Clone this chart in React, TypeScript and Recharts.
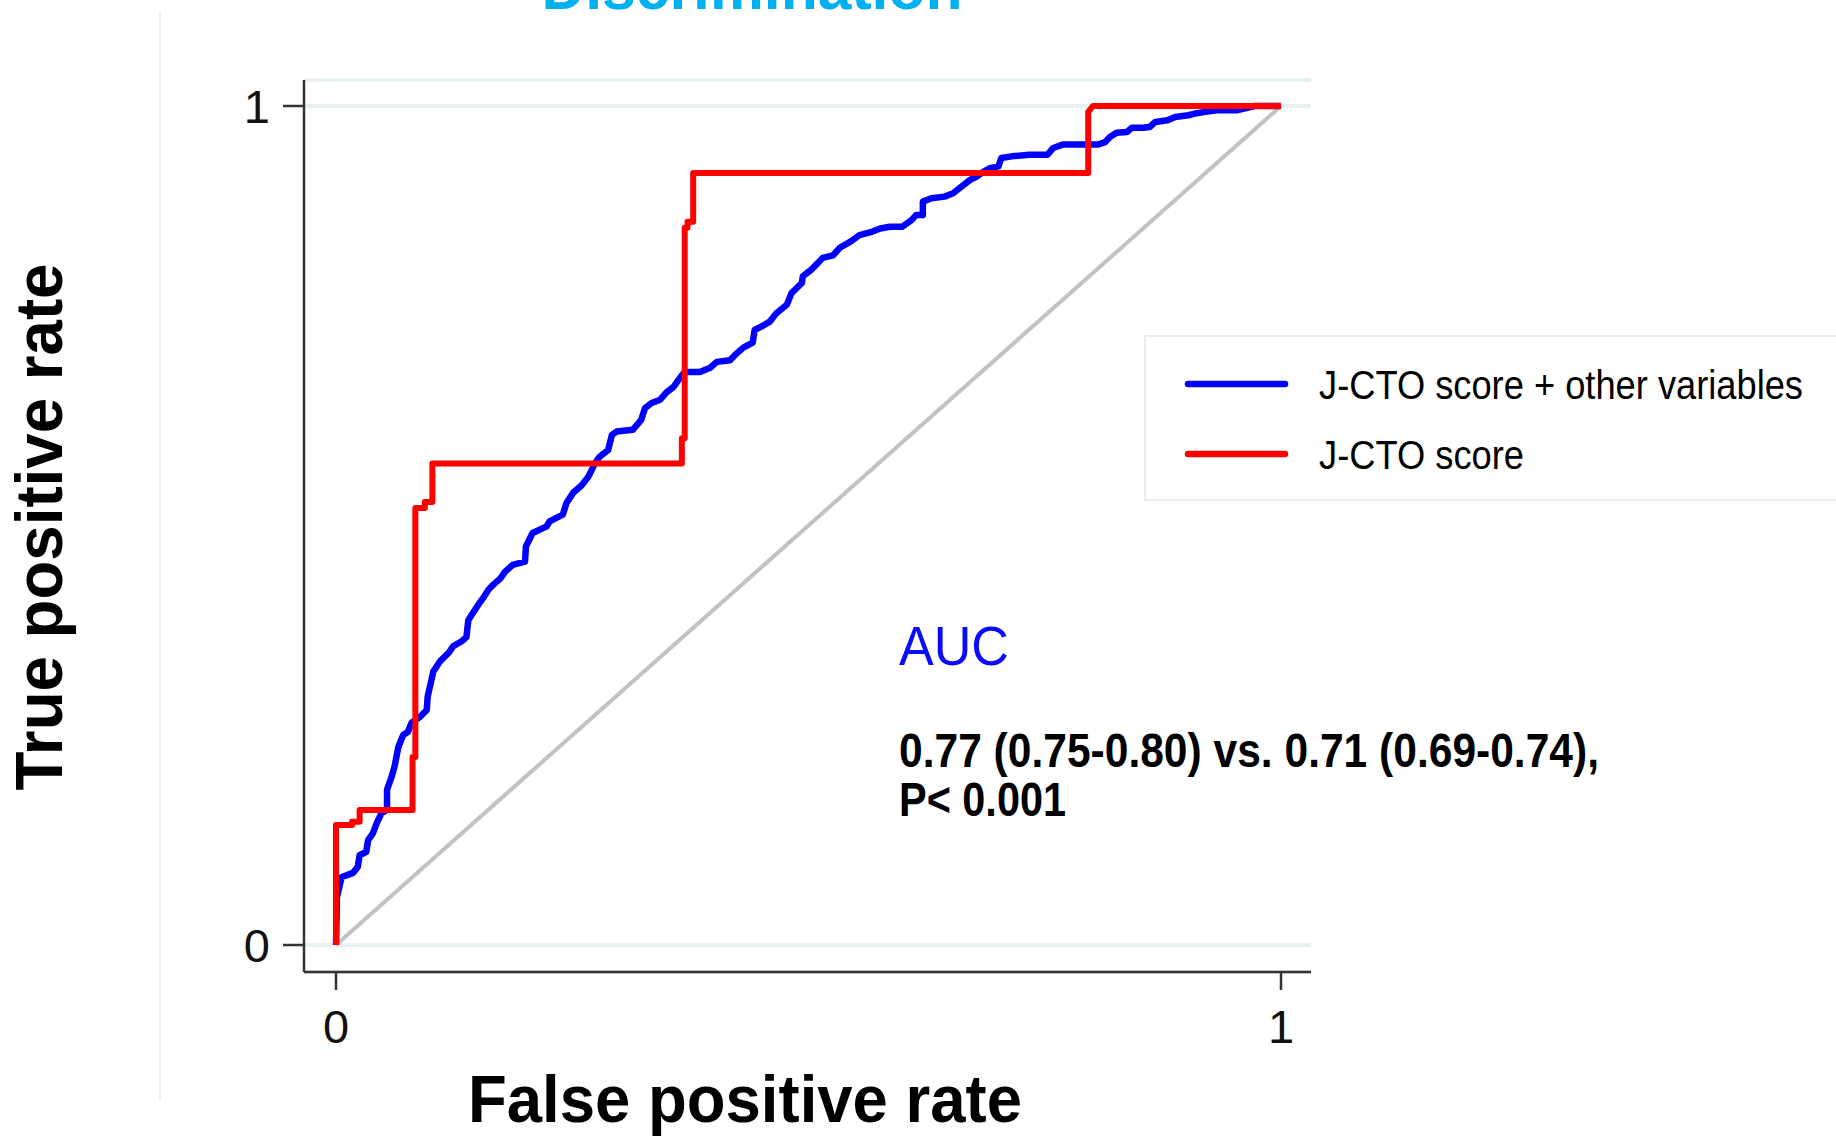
import React from 'react';
import { LineChart, Line, XAxis, YAxis, CartesianGrid, Legend, Customized } from 'recharts';

const FONT = '"Liberation Sans", Arial, Helvetica, sans-serif';

// Axis ticks
const xTicks = [0, 1];
const yTicks = [0, 1];

// Series names and colours
const seriesNames = ['J-CTO score + other variables', 'J-CTO score'];
const seriesColors = ['#0000ff', '#ff0000'];

// Reference (chance) line
const chanceFpr = [0, 1];
const chanceTpr = [0, 1];

// J-CTO score + other variables (blue)
const blueFpr = [
  0, 0.001, 0.006, 0.011, 0.018, 0.023, 0.025, 0.032, 0.034, 0.039, 0.043, 0.048, 0.054, 0.054,
  0.059, 0.062, 0.066, 0.071, 0.076, 0.080, 0.089, 0.096, 0.097, 0.101, 0.103, 0.110, 0.119,
  0.124, 0.133, 0.138, 0.140, 0.145, 0.152, 0.156, 0.161, 0.166, 0.174, 0.179, 0.187, 0.200,
  0.201, 0.208, 0.223, 0.226, 0.240, 0.244, 0.251, 0.260, 0.267, 0.274, 0.279, 0.288, 0.292,
  0.297, 0.314, 0.323, 0.327, 0.334, 0.343, 0.350, 0.357, 0.364, 0.369, 0.385, 0.396, 0.403,
  0.417, 0.422, 0.431, 0.441, 0.443, 0.450, 0.459, 0.466, 0.477, 0.482, 0.493, 0.494, 0.503,
  0.510, 0.515, 0.526, 0.533, 0.544, 0.554, 0.567, 0.576, 0.586, 0.599, 0.609, 0.614, 0.621,
  0.621, 0.630, 0.644, 0.653, 0.662, 0.671, 0.678, 0.683, 0.692, 0.701, 0.704, 0.715, 0.734,
  0.753, 0.759, 0.769, 0.806, 0.814, 0.819, 0.826, 0.837, 0.842, 0.854, 0.861, 0.867, 0.880,
  0.888, 0.902, 0.909, 0.920, 0.932, 0.954, 0.972, 1.0,
];
const blueTpr = [
  0, 0.057, 0.081, 0.083, 0.086, 0.093, 0.107, 0.111, 0.125, 0.133, 0.145, 0.157, 0.161, 0.185,
  0.201, 0.213, 0.236, 0.250, 0.254, 0.265, 0.272, 0.280, 0.296, 0.316, 0.326, 0.338, 0.348,
  0.356, 0.362, 0.367, 0.387, 0.396, 0.408, 0.414, 0.423, 0.429, 0.437, 0.445, 0.453, 0.457,
  0.475, 0.491, 0.499, 0.505, 0.513, 0.527, 0.539, 0.548, 0.558, 0.574, 0.582, 0.590, 0.608,
  0.612, 0.614, 0.626, 0.640, 0.646, 0.650, 0.659, 0.665, 0.676, 0.683, 0.683, 0.688, 0.695,
  0.697, 0.703, 0.712, 0.718, 0.733, 0.737, 0.743, 0.753, 0.763, 0.777, 0.789, 0.797, 0.805,
  0.813, 0.819, 0.822, 0.831, 0.838, 0.846, 0.850, 0.854, 0.856, 0.856, 0.864, 0.870, 0.870,
  0.886, 0.890, 0.892, 0.896, 0.904, 0.912, 0.916, 0.920, 0.926, 0.928, 0.938, 0.940, 0.942,
  0.942, 0.950, 0.954, 0.954, 0.957, 0.963, 0.968, 0.969, 0.974, 0.974, 0.975, 0.981, 0.983,
  0.987, 0.989, 0.991, 0.993, 0.995, 0.995, 1.0, 1.0,
];

// J-CTO score (red)
const redFpr = [
  0, 0, 0.017, 0.017, 0.025, 0.025, 0.081, 0.081, 0.084, 0.084, 0.094, 0.094, 0.102, 0.102,
  0.366, 0.366, 0.369, 0.369, 0.372, 0.372, 0.378, 0.378, 0.796, 0.796, 0.801, 1.0,
];
const redTpr = [
  0, 0.143, 0.143, 0.147, 0.147, 0.161, 0.161, 0.224, 0.224, 0.521, 0.521, 0.528, 0.528, 0.574,
  0.574, 0.604, 0.604, 0.855, 0.855, 0.862, 0.862, 0.920, 0.920, 0.993, 1.0, 1.0,
];

const zip = (xs: number[], ys: number[]) => xs.map((x, i) => ({ fpr: x, tpr: ys[i] }));
const chanceData = zip(chanceFpr, chanceTpr);
const blueData = zip(blueFpr, blueTpr);
const redData = zip(redFpr, redTpr);

const titleText = 'Discrimination';
const aucLabel = 'AUC';
const aucLine1 = '0.77 (0.75-0.80) vs. 0.71 (0.69-0.74),';
const aucLine2 = 'P< 0.001';
const xTitle = 'False positive rate';
const yTitle = 'True positive rate';

function Annotations() {
  return (
    <g fontFamily={FONT}>
      <line x1={160} y1={12} x2={160} y2={1100} stroke="#e8e8e8" strokeWidth={1.5} />
      <text x={752} y={9} textAnchor="middle" fill="#00b0f0" fontWeight="bold" fontSize={62}
        textLength={421} lengthAdjust="spacingAndGlyphs">{titleText}</text>
      <text x={899} y={665} fill="#0a0aff" fontSize={55}
        textLength={110} lengthAdjust="spacingAndGlyphs">{aucLabel}</text>
      <text x={899} y={767} fill="#000" fontWeight="bold" fontSize={49}
        textLength={700} lengthAdjust="spacingAndGlyphs">{aucLine1}</text>
      <text x={899} y={816} fill="#000" fontWeight="bold" fontSize={49}
        textLength={167} lengthAdjust="spacingAndGlyphs">{aucLine2}</text>
      <text x={745} y={1122} textAnchor="middle" fill="#000" fontWeight="bold" fontSize={67}
        textLength={554} lengthAdjust="spacingAndGlyphs">{xTitle}</text>
      <text transform="translate(62,527) rotate(-90)" textAnchor="middle" fill="#000" fontWeight="bold"
        fontSize={66} textLength={527} lengthAdjust="spacingAndGlyphs">{yTitle}</text>
    </g>
  );
}

function LegendBox() {
  const textLens = [484, 205];
  return (
    <div style={{
      width: 692, height: 166, boxSizing: 'border-box',
      border: '2px solid #e6eef0', borderRight: 'none', background: '#fff',
    }}>
      <svg width={690} height={162} style={{ display: 'block' }}>
        {seriesNames.map((name, i) => (
          <g key={name}>
            <line x1={42} x2={139} y1={47 + i * 70} y2={47 + i * 70}
              stroke={seriesColors[i]} strokeWidth={6.5} strokeLinecap="round" />
            <text x={173} y={62 + i * 70} fontFamily={FONT} fontSize={40} fill="#000"
              textLength={textLens[i]} lengthAdjust="spacingAndGlyphs">{name}</text>
          </g>
        ))}
      </svg>
    </div>
  );
}

export default function App() {
  return (
    <div style={{ position: 'absolute', left: 0, top: 0, width: 1836, height: 1138, background: '#fff' }}>
      <LineChart width={1836} height={1138} margin={{ top: 80, right: 525, left: 0, bottom: 0 }}>
        <CartesianGrid vertical={false} stroke="#e8f0f2" strokeWidth={4} />
        <XAxis
          type="number"
          dataKey="fpr"
          domain={[-0.03386, 1.03175]}
          ticks={xTicks}
          height={166}
          tickSize={18}
          tickMargin={20}
          axisLine={{ stroke: '#333', strokeWidth: 2.5 }}
          tickLine={{ stroke: '#333', strokeWidth: 2.5 }}
          tick={{ fontSize: 47, fill: '#111', fontFamily: FONT }}
        />
        <YAxis
          type="number"
          dataKey="tpr"
          domain={[-0.03218, 1.03099]}
          ticks={yTicks}
          width={304}
          tickSize={21}
          tickMargin={13}
          axisLine={{ stroke: '#333', strokeWidth: 2.5 }}
          tickLine={{ stroke: '#333', strokeWidth: 2.5 }}
          tick={{ fontSize: 47, fill: '#111', fontFamily: FONT }}
        />
        <Line data={chanceData} dataKey="tpr" name="chance" stroke="#c2c2c2" strokeWidth={4}
          dot={false} activeDot={false} legendType="none" isAnimationActive={false} />
        <Line data={blueData} dataKey="tpr" name={seriesNames[0]} stroke={seriesColors[0]} strokeWidth={6.5}
          strokeLinejoin="round" dot={false} activeDot={false} isAnimationActive={false} />
        <Line data={redData} dataKey="tpr" name={seriesNames[1]} stroke={seriesColors[1]} strokeWidth={6}
          strokeLinejoin="round" dot={false} activeDot={false} isAnimationActive={false} />
        <Legend layout="vertical" align="center" verticalAlign="middle"
          wrapperStyle={{ left: 1144, top: 335, width: 692, height: 166, margin: 0 }}
          content={() => <LegendBox />} />
        <Customized component={Annotations} />
      </LineChart>
    </div>
  );
}
